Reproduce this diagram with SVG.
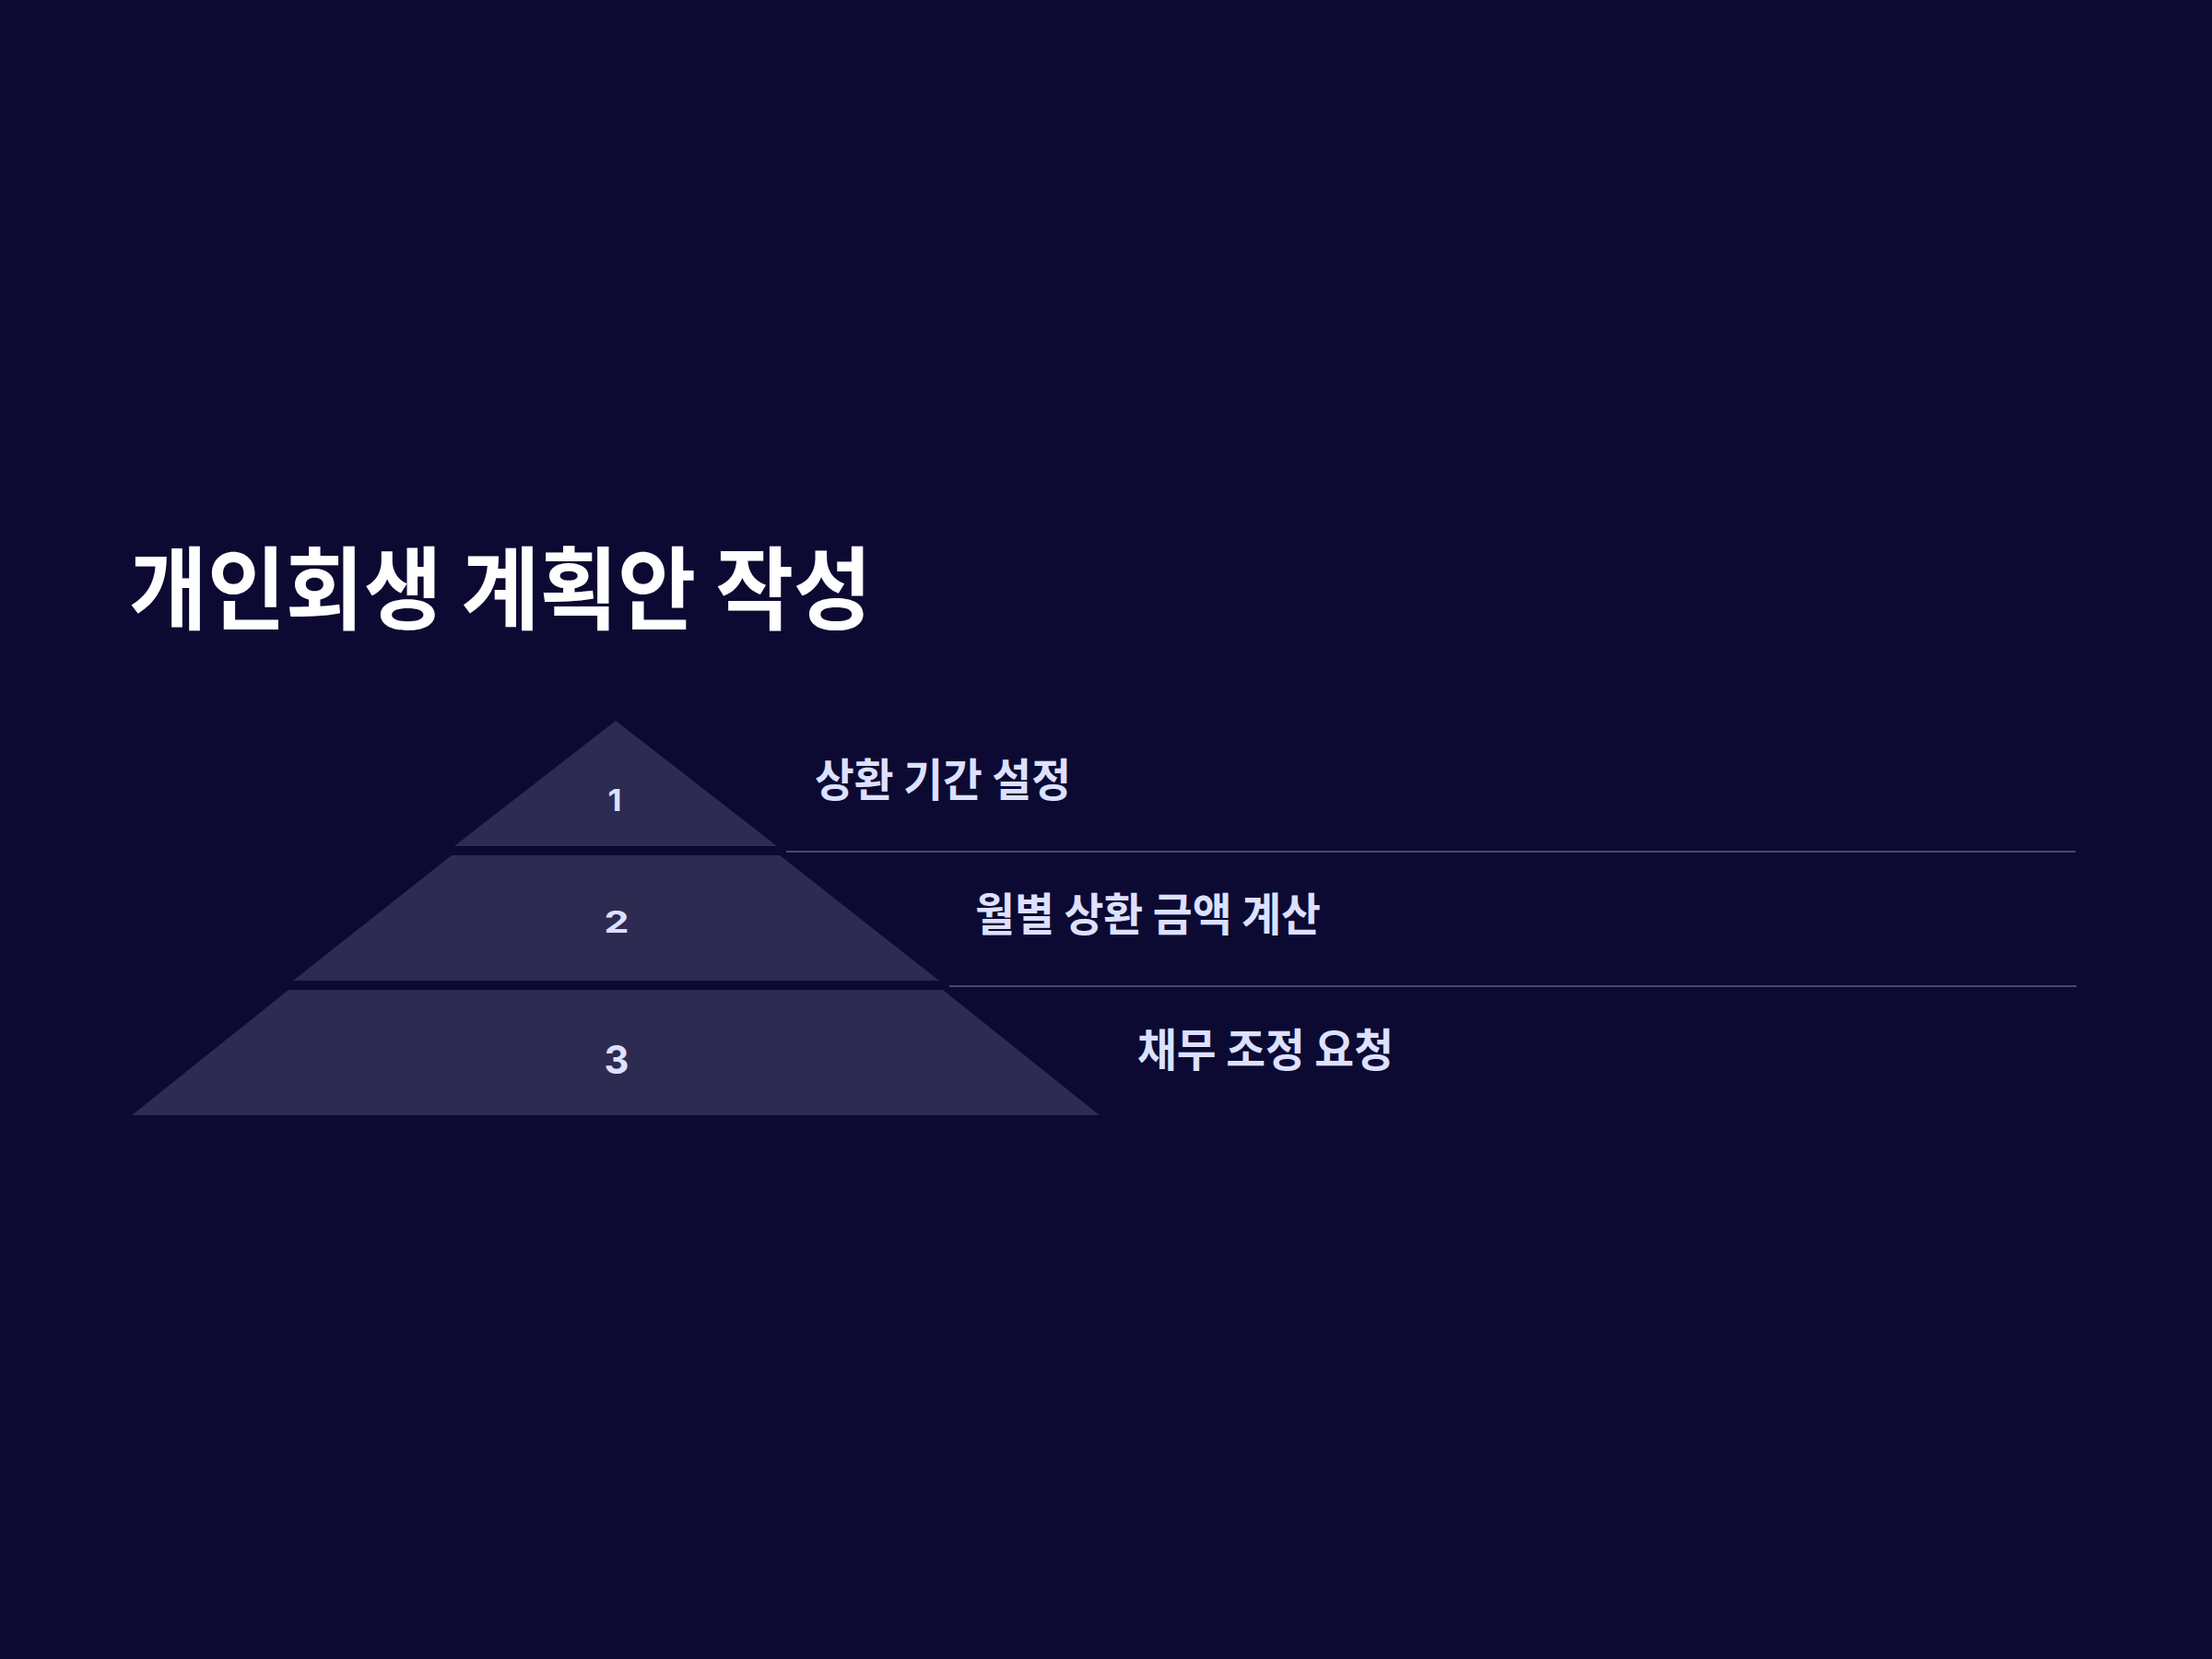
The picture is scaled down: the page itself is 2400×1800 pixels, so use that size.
<svg xmlns="http://www.w3.org/2000/svg" width="2400" height="1800" viewBox="0 0 2400 1800">
<style>
.title{font-family:"Noto Sans CJK KR","Noto Sans",sans-serif;font-weight:700;font-size:98px;fill:#ffffff}
.label{font-family:"Noto Sans CJK KR","Noto Sans",sans-serif;font-weight:700;font-size:49px;fill:#dde0ff}
.num{font-family:Inter,"Liberation Sans",sans-serif;font-weight:700;font-size:33px;fill:#dde0ff;text-anchor:middle}
.tier{fill:#2d2b52}
.sep{stroke:#4a4874;stroke-width:2;fill:none}
</style>
<rect x="0" y="0" width="2400" height="1800" fill="#0c0a32"/>
<text class="title" x="140" y="675" textLength="806" lengthAdjust="spacingAndGlyphs">개인회생 계획안 작성</text>
<g id="tier1">
<polygon class="tier" points="668,782 843,918 493,918"/>
<text class="num" x="667" y="880" textLength="15" lengthAdjust="spacingAndGlyphs">1</text>
</g>
<g id="tier2">
<polygon class="tier" points="490,928 846,928 1019,1064 318,1064"/>
<text class="num" x="669" y="1012" textLength="27" lengthAdjust="spacingAndGlyphs">2</text>
</g>
<g id="tier3">
<polygon class="tier" points="313,1074 1023,1074 1193,1210 143,1210"/>
<text class="num" x="669" y="1165" textLength="27" lengthAdjust="spacingAndGlyphs" transform="translate(0,1165) scale(1,1.3) translate(0,-1165)">3</text>
</g>
<g id="label1">
<text class="label" x="884" y="864" textLength="278" lengthAdjust="spacingAndGlyphs">상환 기간 설정</text>
</g>
<g id="label2">
<text class="label" x="1058" y="1010" textLength="375" lengthAdjust="spacingAndGlyphs">월별 상환 금액 계산</text>
</g>
<g id="label3">
<text class="label" x="1234" y="1157" textLength="278" lengthAdjust="spacingAndGlyphs">채무 조정 요청</text>
</g>
<g id="connectors">
<line class="sep" x1="853" y1="924" x2="2252" y2="924"/>
<line class="sep" x1="1030" y1="1070" x2="2253" y2="1070"/>
</g>
</svg>
